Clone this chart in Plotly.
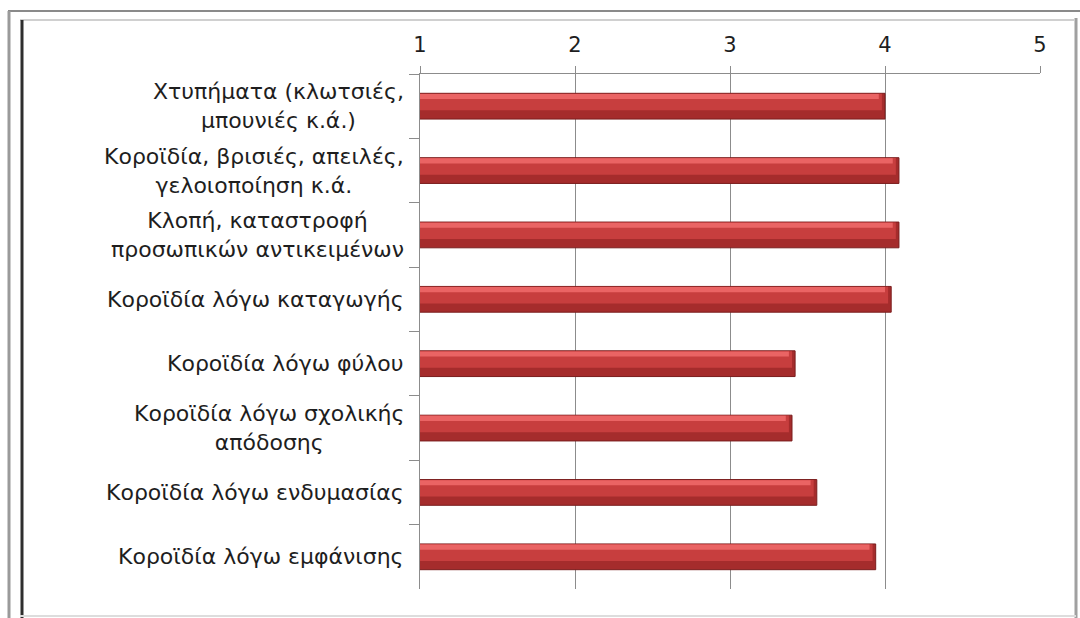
import plotly.graph_objects as go

categories = [
    "Χτυπήματα (κλωτσιές,<br>μπουνιές κ.ά.)",
    "Κοροϊδία, βρισιές, απειλές,<br>γελοιοποίηση κ.ά.",
    "Κλοπή, καταστροφή<br>προσωπικών αντικειμένων",
    "Κοροϊδία λόγω καταγωγής",
    "Κοροϊδία λόγω φύλου",
    "Κοροϊδία λόγω σχολικής<br>απόδοσης",
    "Κοροϊδία λόγω ενδυμασίας",
    "Κοροϊδία λόγω εμφάνισης",
]
values = [4.00, 4.09, 4.09, 4.04, 3.42, 3.40, 3.56, 3.94]
tick_vals = [1, 2, 3, 4, 5]

W, H = 1080, 618
L, R, T, B = 420, 40, 74, 29
pw, ph = W - L - R, H - T - B

def px(x):
    return (x - L) / pw

def py(y):
    return (H - B - y) / ph

FONT = "DejaVu Sans, Verdana, sans-serif"

fig = go.Figure()
# base (darker lower part)
fig.add_trace(go.Bar(
    y=categories, x=values, orientation="h", width=0.4,
    marker=dict(color="#a52c2c", line=dict(color="#7a1d1d", width=1)),
    hoverinfo="x+y", showlegend=False,
))
# middle band
fig.add_trace(go.Bar(
    y=categories, x=[v - 0.02 for v in values], orientation="h", width=0.26, offset=-0.195,
    marker=dict(color="#c73e3e", line=dict(width=0)),
    hoverinfo="skip", showlegend=False,
))
# top highlight
fig.add_trace(go.Bar(
    y=categories, x=[v - 0.04 for v in values], orientation="h", width=0.08, offset=-0.19,
    marker=dict(color="#ea6464", line=dict(width=0)),
    hoverinfo="skip", showlegend=False,
))

for c in categories:
    fig.add_annotation(
        x=0, xref="paper", xshift=-14, y=c, yref="y",
        text=c, showarrow=False, xanchor="right", yanchor="middle",
        align="center", font=dict(family=FONT, size=22, color="#1e1e1e"),
    )

shapes = [
    # outer frame
    dict(x0=px(8), x1=px(1080), y0=py(11), y1=py(11), line=dict(color="#8a8a8a", width=2)),
    dict(x0=px(9), x1=px(9), y0=py(11), y1=py(618), line=dict(color="#9a9a9a", width=3)),
    # inner frame
    dict(x0=px(20), x1=px(1074), y0=py(20), y1=py(20), line=dict(color="#d0d0d0", width=2)),
    dict(x0=px(22), x1=px(22), y0=py(20), y1=py(618), line=dict(color="#2e2e2e", width=3)),
    dict(x0=px(1076), x1=px(1076), y0=py(18), y1=py(618), line=dict(color="#a0a0a0", width=3)),
    dict(x0=px(20), x1=px(1076), y0=py(616), y1=py(616), line=dict(color="#dddddd", width=2)),
]
for s in shapes:
    s.update(type="line", xref="paper", yref="paper", layer="above")
fig.update_layout(shapes=shapes)

fig.update_layout(
    width=W, height=H,
    margin=dict(l=L, r=R, t=T, b=B),
    paper_bgcolor="white", plot_bgcolor="white",
    barmode="overlay", bargap=0.6,
    font=dict(family=FONT, size=20, color="#1e1e1e"),
    xaxis=dict(
        side="top", range=[1, 5], tickvals=tick_vals, ticktext=[str(v) for v in tick_vals],
        showgrid=True, gridcolor="#8c8c8c", gridwidth=1,
        showline=True, linecolor="#8c8c8c", linewidth=1,
        ticks="outside", ticklen=7, tickcolor="#8c8c8c", ticklabelstandoff=6,
        tickfont=dict(family=FONT, size=21, color="#1e1e1e"),
        zeroline=False, fixedrange=True,
    ),
    yaxis=dict(
        autorange="reversed", showticklabels=False,
        showline=True, linecolor="#8c8c8c", linewidth=1,
        ticks="outside", ticklen=10, tickcolor="#8c8c8c", tickson="boundaries",
        showgrid=False, fixedrange=True,
    ),
)

fig.write_html("out.html", config={"displayModeBar": False},
               post_script="document.body.style.margin='0';")
